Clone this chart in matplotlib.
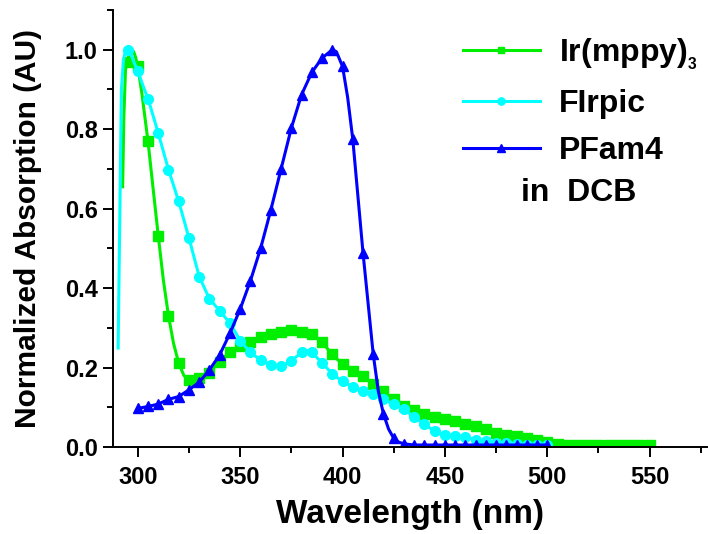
import numpy as np
import matplotlib; matplotlib.use("Agg")
import matplotlib.pyplot as plt
from matplotlib.ticker import MultipleLocator

plt.rcParams.update({"font.family": "Liberation Sans", "font.weight": "bold",
                     "mathtext.fontset": "custom", "mathtext.rm": "Liberation Sans:bold",
                     "mathtext.bf": "Liberation Sans:bold", "mathtext.it": "Liberation Sans:bold"})

# Ir(mppy)3 -- green squares
ir_wl = [292.6, 293.2, 294, 295, 296, 297, 298, 299, 300, 302, 305, 307.5, 310, 312.5, 315, 317.5,
         320, 322.5, 325, 330, 335, 340, 345, 350, 355, 360, 365, 370, 375, 380, 385, 390, 395,
         400, 405, 410, 415, 420, 425, 430, 435, 440, 445, 450, 455, 460, 465, 470, 475, 480,
         485, 490, 495, 500, 505, 510, 515, 520, 525, 530, 535, 540, 545, 550]
ir_ab = [0.655, 0.83, 0.95, 0.97, 0.995, 1.0, 0.995, 0.98, 0.958, 0.89, 0.769, 0.65, 0.532, 0.42,
         0.330, 0.26, 0.211, 0.18, 0.169, 0.173, 0.187, 0.215, 0.240, 0.253, 0.265, 0.278, 0.284,
         0.290, 0.295, 0.290, 0.284, 0.264, 0.233, 0.208, 0.191, 0.179, 0.158, 0.141, 0.120, 0.104,
         0.093, 0.082, 0.076, 0.071, 0.065, 0.057, 0.052, 0.045, 0.036, 0.031, 0.028, 0.023, 0.018,
         0.012, 0.007, 0.005, 0.004, 0.004, 0.004, 0.004, 0.004, 0.004, 0.004, 0.004]

# FIrpic -- cyan circles
fi_wl = [290.4, 291.2, 292, 293, 294, 295, 296, 297, 298, 300, 302.5, 305, 310, 315, 320, 325, 330,
         335, 340, 345, 350, 355, 360, 365, 370, 375, 380, 382.5, 385, 390, 395, 400, 405, 410, 415,
         420, 425, 430, 435, 440, 445, 450, 455, 460, 465, 470, 475, 480, 485, 490, 495, 500]
fi_ab = [0.249, 0.57, 0.90, 0.975, 0.997, 1.0, 0.995, 0.985, 0.97, 0.947, 0.91, 0.877, 0.790, 0.698,
         0.618, 0.526, 0.429, 0.373, 0.343, 0.312, 0.268, 0.238, 0.219, 0.207, 0.203, 0.217, 0.238,
         0.243, 0.238, 0.212, 0.184, 0.165, 0.152, 0.142, 0.134, 0.120, 0.108, 0.095, 0.075, 0.057,
         0.040, 0.030, 0.028, 0.025, 0.018, 0.014, 0.011, 0.009, 0.007, 0.006, 0.005, 0.004]

# PFam4 -- blue triangles
pf_wl = [300, 305, 310, 315, 320, 325, 330, 335, 340, 345, 350, 355, 360, 365, 370, 375, 380, 385,
         390, 395, 397, 400, 402.5, 405, 410, 415, 417.5, 420, 422.5, 425, 427.5, 430, 435, 440, 445,
         450, 455, 460, 465, 470, 475, 480, 485, 490, 495, 500]
pf_ab = [0.097, 0.102, 0.108, 0.120, 0.127, 0.144, 0.163, 0.194, 0.232, 0.286, 0.347, 0.418, 0.500,
         0.597, 0.700, 0.803, 0.887, 0.943, 0.979, 1.0, 0.995, 0.958, 0.88, 0.775, 0.489, 0.233, 0.14,
         0.083, 0.045, 0.022, 0.012, 0.008, 0.005, 0.005, 0.005, 0.005, 0.005, 0.005, 0.005, 0.005,
         0.005, 0.005, 0.005, 0.005, 0.005, 0.005]

SERIES = [("Ir(mppy)$_{{}_{\\mathbf{3}}}$", ir_wl, ir_ab, "#00ee00", "s", 6.5),
          ("FIrpic", fi_wl, fi_ab, "#00ffff", "o", 7.0),
          ("PFam4", pf_wl, pf_ab, "#0000ff", "^", 7.0)]

fig = plt.figure(figsize=(7.08, 5.34), dpi=100)
ax = fig.add_axes([113/708, 87/534, 594/708, 437/534])
for label, wl, ab, c, m, ms in SERIES:
    wl = np.array(wl)
    marks = [i for i, w in enumerate(wl) if w % 5 == 0]   # Origin-style: symbol every 5 nm
    ax.plot(wl, ab, color=c, lw=2.2, marker=m, ms=ms, mec=c, mfc=c, markevery=marks, label=label)

ax.set_xlim(287.9, 578)
ax.set_ylim(0, 1.1)
ax.xaxis.set_major_locator(MultipleLocator(50)); ax.xaxis.set_minor_locator(MultipleLocator(25))
ax.yaxis.set_major_locator(MultipleLocator(0.2)); ax.yaxis.set_minor_locator(MultipleLocator(0.1))
ax.yaxis.set_major_formatter(matplotlib.ticker.FormatStrFormatter("%.1f"))
for s in ("top", "right"):
    ax.spines[s].set_visible(False)
for s in ("left", "bottom"):
    ax.spines[s].set_linewidth(1.4)
ax.tick_params(which="major", direction="out", length=7, width=1.4, labelsize=17, pad=4)
ax.tick_params(axis="x", which="major", pad=7)
ax.tick_params(which="minor", direction="out", length=4, width=1.4)
ax.set_xlabel("Wavelength (nm)", fontsize=24, fontweight="bold", labelpad=7)
ax.set_ylabel("Normalized Absorption (AU)", fontsize=21.5, fontweight="bold", labelpad=16)

leg = ax.legend(loc="upper left", bbox_to_anchor=(0.589, 0.94), frameon=False, fontsize=23,
                handlelength=2.4, handletextpad=0.6, numpoints=1, markerscale=0.75,
                labelspacing=0.53, borderpad=0, borderaxespad=0)
ax.text(487.4, 0.64, "in  DCB", fontsize=23, fontweight="bold", ha="left", va="center")

fig.savefig("out.png", dpi=100)
